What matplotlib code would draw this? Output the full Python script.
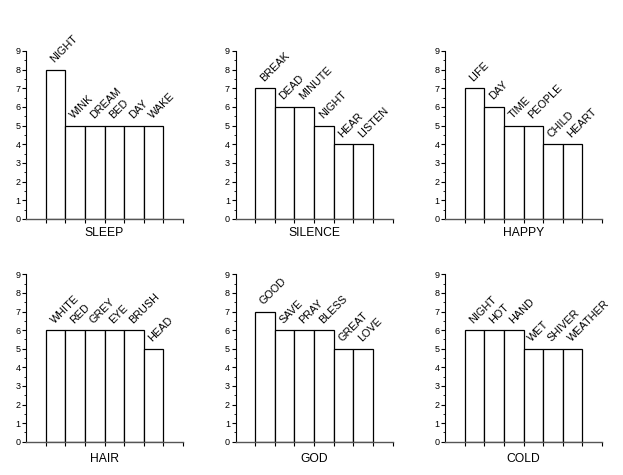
import matplotlib
matplotlib.use("Agg")
import matplotlib.pyplot as plt
from matplotlib.ticker import MultipleLocator

titles = ["SLEEP", "SILENCE", "HAPPY", "HAIR", "GOD", "COLD"]
words = [
    ["NIGHT", "WINK", "DREAM", "BED", "DAY", "WAKE"],
    ["BREAK", "DEAD", "MINUTE", "NIGHT", "HEAR", "LISTEN"],
    ["LIFE", "DAY", "TIME", "PEOPLE", "CHILD", "HEART"],
    ["WHITE", "RED", "GREY", "EYE", "BRUSH", "HEAD"],
    ["GOOD", "SAVE", "PRAY", "BLESS", "GREAT", "LOVE"],
    ["NIGHT", "HOT", "HAND", "WET", "SHIVER", "WEATHER"],
]
counts = [
    [8, 5, 5, 5, 5, 5],
    [7, 6, 6, 5, 4, 4],
    [7, 6, 5, 5, 4, 4],
    [6, 6, 6, 6, 6, 5],
    [7, 6, 6, 6, 5, 5],
    [6, 6, 6, 5, 5, 5],
]
y_ticks = list(range(10))

W, H = 623, 475
fig = plt.figure(figsize=(W / 100, H / 100), dpi=100)
fig.patch.set_facecolor("white")
plt.rcParams["font.family"] = ["Liberation Sans", "DejaVu Sans"]

lefts = [26, 235.5, 445]
widths = [157, 157, 157]
rows = [(219, 51), (441.7, 274.3)]
pads = [-0.5, 1.5]

for i in range(6):
    r, c = divmod(i, 3)
    y0, y9 = rows[r]
    ax = fig.add_axes([lefts[c] / W, 1 - y0 / H, widths[c] / W, (y0 - y9) / H])
    vals = counts[i]
    xs = [1 + k for k in range(len(vals))]
    ax.bar(xs, vals, width=1.0, align="edge", facecolor="white",
           edgecolor="black", linewidth=0.9)
    for x, v, w in zip(xs, vals, words[i]):
        ax.text(x + 0.45, v + 0.35, w, rotation=45, rotation_mode="anchor",
                ha="left", va="baseline", fontsize=7.8)
    ax.set_xlim(0, 8)
    ax.set_ylim(0, 9)
    ax.set_yticks(y_ticks)
    ax.yaxis.set_minor_locator(MultipleLocator(0.5))
    ax.set_xticks(list(range(1, 9)))
    ax.set_xticklabels([])
    ax.tick_params(axis="y", which="major", length=3, width=0.8, labelsize=6.5, pad=1)
    ax.tick_params(axis="y", which="minor", length=1.5, width=0.6)
    ax.tick_params(axis="x", which="major", length=3, width=0.8, direction="out")
    for s in ["top", "right"]:
        ax.spines[s].set_visible(False)
    ax.spines["left"].set_linewidth(0.8)
    ax.spines["bottom"].set_linewidth(1.0)
    ax.spines["bottom"].set_color("#555555")
    ax.set_xlabel(titles[i], fontsize=8.7, labelpad=pads[r])

fig.savefig("out.png", dpi=100, facecolor="white")
